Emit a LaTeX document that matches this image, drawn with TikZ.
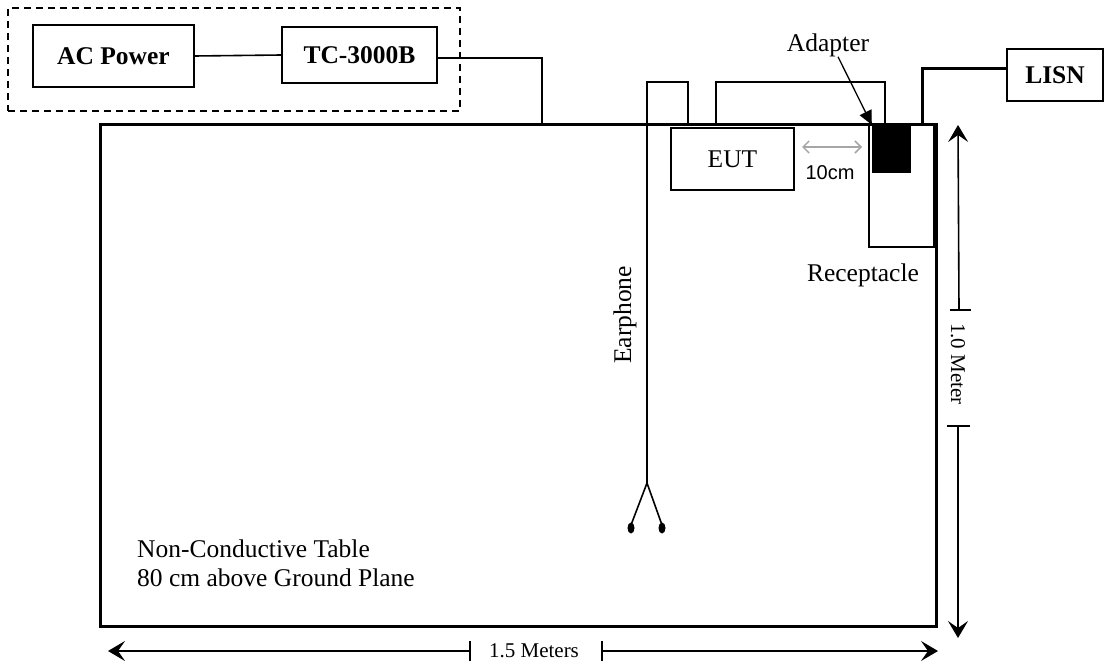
\documentclass[tikz,border=0pt]{standalone}
\usepackage{fontspec}
\setmainfont{Liberation Serif}
\newfontfamily\arialf{Liberation Sans}
\usetikzlibrary{arrows.meta}
\begin{document}
\begin{tikzpicture}[x=1pt,y=-1pt,
  box/.style={draw,line width=1.5pt,inner sep=0pt,font=\fontsize{25.5}{29}\selectfont},
  bbox/.style={box,font=\fontsize{25.5}{29}\selectfont\bfseries},
  lbl/.style={inner sep=0pt,font=\fontsize{25.5}{29}\selectfont},
  dimlbl/.style={inner sep=0pt,font=\fontsize{21}{24}\selectfont},
  wire/.style={line width=1.6pt},
  thickwire/.style={line width=3pt},
  dimarrow/.style={line width=1.6pt,-{Stealth[length=17pt,width=20pt,inset=7pt]}},
  tick/.style={line width=1.6pt},
]
\useasboundingbox (0,0) rectangle (1113,666);

% boxes
\node[draw,dashed,dash pattern=on 7pt off 5pt,line width=1.5pt,inner sep=0pt,minimum width=452pt,minimum height=103pt] (grp) at (234,59.5) {};
\node[bbox,minimum width=161pt,minimum height=62pt] (ac) at (113.5,56) {AC Power};
\node[bbox,minimum width=155pt,minimum height=56pt] (tc) at (359.5,55) {TC-3000B};
\node[draw,line width=3pt,inner sep=0pt,minimum width=836pt,minimum height=501pt] (table) at (518,375.5) {};
\node[box,minimum width=123pt,minimum height=62pt] (eut) at (732.5,159) {EUT};
\node[box,minimum width=65pt,minimum height=122pt] (rec) at (901.5,186) {};
\node[draw,fill=black,inner sep=0pt,minimum width=38pt,minimum height=47pt] (adp) at (891,148.5) {};
\node[bbox,minimum width=96pt,minimum height=52pt] (lisn) at (1055,75) {LISN};

% labels
\node[lbl] (adl) at (828,45) {Adapter};
\node[lbl] (recl) at (863,275) {Receptacle};
\node[lbl,rotate=90] (earl) at (625,315) {Earphone};
\node[lbl,anchor=west,align=left] (tabl) at (137,563) {Non-Conductive Table\\80 cm above Ground Plane};
\node[inner sep=0pt,font=\arialf\fontsize{20}{24}\selectfont] (tencm) at (830,173) {10cm};

% wires
\draw[wire] (ac.east) -- (tc.west);
\coordinate (tin) at (542,125);
\draw[wire] ([yshift=-3pt]tc.east) -| (tin);
\coordinate (lin) at (922,125);
\draw[thickwire] (lin) |- ([yshift=6pt]lisn.west);

% earphone
\coordinate (ebr) at (647,483);
\coordinate (etop) at (647,82);
\coordinate (eend) at (688,125);
\draw[wire] (ebr) -- (etop) -| (eend);
\coordinate (eb1) at (631,525);
\coordinate (eb2) at (662,525);
\draw[wire] (eb1) -- (ebr) -- (eb2);
\fill (631,528) ellipse [x radius=3.5, y radius=5.5];
\fill (662,528) ellipse [x radius=3.5, y radius=5.5];

% EUT cable
\coordinate (cst) at (716,125);
\coordinate (ctop) at (885,82);
\draw[wire] (cst) |- (ctop) -- (ctop |- adp.north);

% adapter arrow
\draw[line width=1.3pt,-{Triangle[length=14pt,width=13pt]}] ([xshift=10pt]adl.south) -- (adp.north west);

% 10cm
\coordinate (g1) at (802,147);
\coordinate (g2) at (862,147);
\draw[gray!70,line width=1.5pt,{Straight Barb[length=6pt,width=12pt]}-{Straight Barb[length=6pt,width=12pt]}] (g1) -- (g2);

% vertical dimension
\node[dimlbl,rotate=-90] (vlab) at (958,364) {1.0 Meter};
\coordinate (vt1) at (959,310);
\coordinate (vt2) at (958,426);
\coordinate (vtop) at (958,125);
\coordinate (vbot) at (958,638);
\draw[tick] ([xshift=-9pt]vt1) -- ([xshift=12pt]vt1);
\draw[tick] ([xshift=-11pt]vt2) -- ([xshift=12pt]vt2);
\draw[dimarrow] (vt1) -- (vtop);
\draw[dimarrow] (vt2) -- (vbot);

% horizontal dimension
\node[dimlbl] (hlab) at (534,651) {1.5 Meters};
\coordinate (ht1) at (470,651);
\coordinate (ht2) at (602,651);
\coordinate (hl) at (108,651);
\coordinate (hr) at (938,651);
\draw[tick] ([yshift=-10pt]ht1) -- ([yshift=10pt]ht1);
\draw[tick] ([yshift=-10pt]ht2) -- ([yshift=10pt]ht2);
\draw[dimarrow] (ht1) -- (hl);
\draw[dimarrow] (ht2) -- (hr);
\end{tikzpicture}
\end{document}
